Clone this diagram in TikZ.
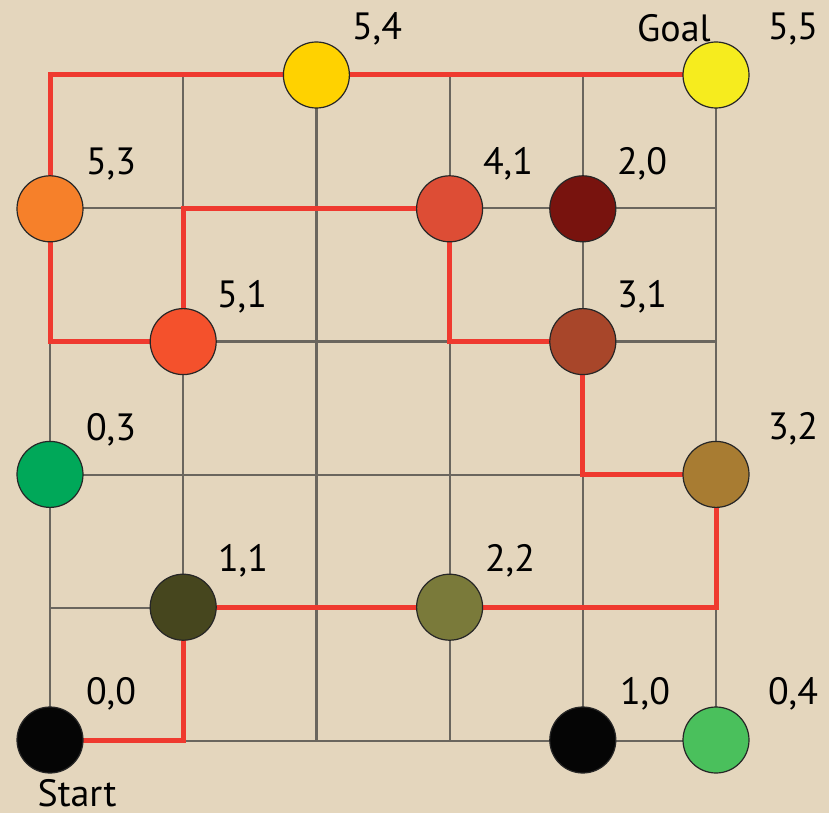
\documentclass[tikz,border=0pt]{standalone}
\usepackage{fontspec}
\setmainfont{PT Sans}
\pgfdeclarelayer{background}
\pgfdeclarelayer{paper}
\pgfsetlayers{paper,background,main}
\definecolor{paperc}{HTML}{E4D6BD}
\definecolor{gridc}{HTML}{6A665E}
\definecolor{pathc}{HTML}{EF3A2F}
\definecolor{cA}{HTML}{050505}
\definecolor{cB}{HTML}{46461E}
\definecolor{cC}{HTML}{7A7A3A}
\definecolor{cD}{HTML}{4AC05C}
\definecolor{cE}{HTML}{00A859}
\definecolor{cF}{HTML}{F4512C}
\definecolor{cG}{HTML}{A8462A}
\definecolor{cH}{HTML}{A87C32}
\definecolor{cI}{HTML}{F6802A}
\definecolor{cJ}{HTML}{DD4D35}
\definecolor{cK}{HTML}{78130E}
\definecolor{cL}{HTML}{FFD200}
\definecolor{cM}{HTML}{F6EC1E}
\tikzset{
  dot/.style={circle, draw=black!85, line width=1.2pt, minimum size=66pt, inner sep=0pt},
  lab/.style={font=\fontsize{38}{40}\selectfont, text=black, inner sep=0pt},
  gridline/.style={draw=gridc, line width=2.2pt},
  route/.style={draw=pathc, line width=5pt, line join=miter}
}
\begin{document}
\begin{tikzpicture}[x=1pt,y=-1pt]
\begin{pgfonlayer}{paper}
\fill[paperc] (0,0) rectangle (829,813);
\end{pgfonlayer}
\useasboundingbox (0,0) rectangle (829,813);
% nodes
\node[dot, fill=cA] (n00) at (50,740) {};
\node[dot, fill=cB] (n11) at (183.2,607.2) {};
\node[dot, fill=cC] (n22) at (449.6,607.2) {};
\node[dot, fill=cA] (n10) at (582.8,740) {};
\node[dot, fill=cD] (n04) at (716,740) {};
\node[dot, fill=cE] (n03) at (50,474.4) {};
\node[dot, fill=cF] (n51) at (183.2,341.6) {};
\node[dot, fill=cG] (n31) at (582.8,341.6) {};
\node[dot, fill=cH] (n32) at (716,474.4) {};
\node[dot, fill=cI] (n53) at (50,208.8) {};
\node[dot, fill=cJ] (n41) at (449.6,208.8) {};
\node[dot, fill=cK] (n20) at (582.8,208.8) {};
\node[dot, fill=cL] (n54) at (316.4,75) {};
\node[dot, fill=cM] (n55) at (716,75) {};
% labels
\node[lab] (l00) at (111,694) {0,0};
\node[lab] (lstart) at (77,793) {Start};
\node[lab] (l11) at (243,561) {1,1};
\node[lab] (l22) at (510,561) {2,2};
\node[lab] (l10) at (645,694) {1,0};
\node[lab] (l04) at (793,694) {0,4};
\node[lab] (l03) at (111,430) {0,3};
\node[lab] (l51) at (242,297) {5,1};
\node[lab] (l31) at (642,297) {3,1};
\node[lab] (l32) at (793,429) {3,2};
\node[lab] (l53) at (111,164) {5,3};
\node[lab] (l41) at (508,164) {4,1};
\node[lab] (l20) at (642,164) {2,0};
\node[lab] (l54) at (377,29) {5,4};
\node[lab] (l55) at (793,29) {5,5};
\node[lab] (lgoal) at (674,28) {Goal};
\begin{pgfonlayer}{background}
\foreach \i in {0,...,5} {
  \draw[gridline] ({50+133.2*\i},75) -- ({50+133.2*\i},740);
  \draw[gridline] (50,{75+133.2*\i}) -- (716,{75+133.2*\i});
}
\draw[route] (n00.center) -| (n11.center) -- (n22.center) -| (n32.center)
  -| (n31.center) -| (n41.center) -| (n51.center) -| (n53.center)
  |- (n54.center) -- (n55.center);
\end{pgfonlayer}
\end{tikzpicture}
\end{document}
